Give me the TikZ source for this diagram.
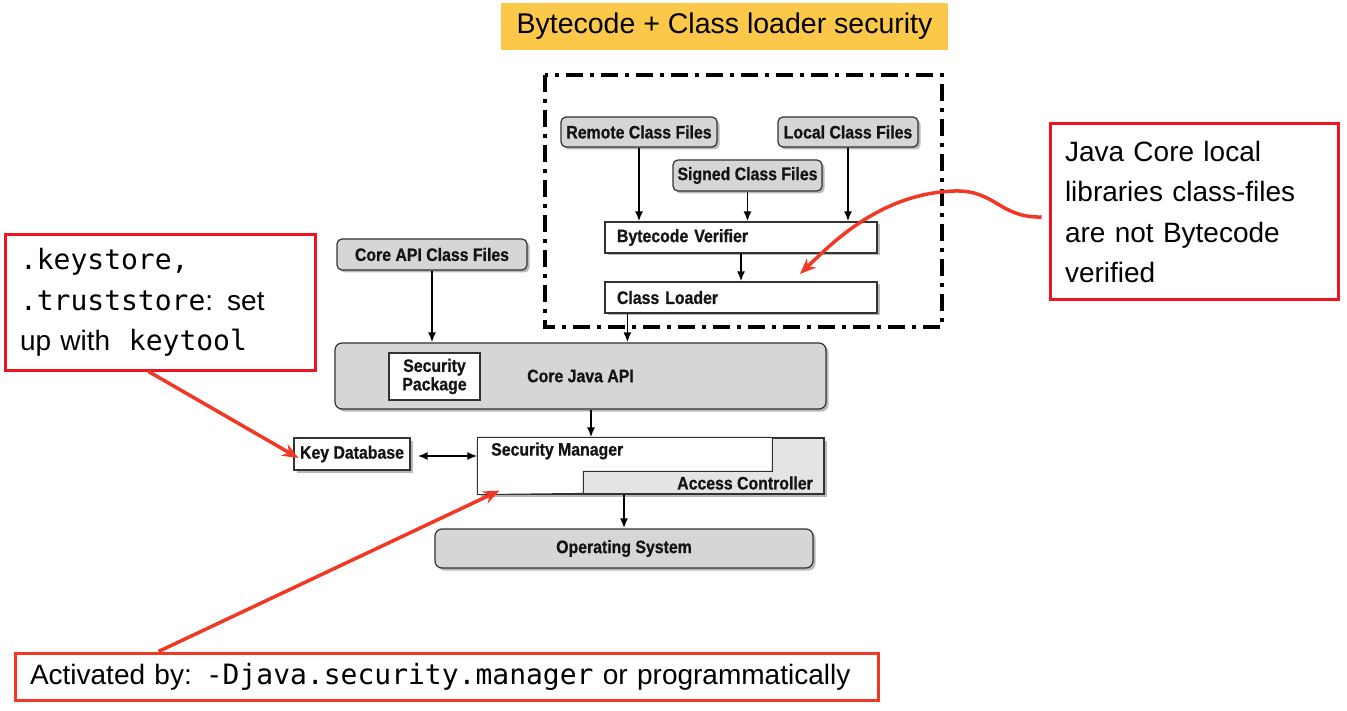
\documentclass[tikz,border=0pt]{standalone}
\usepackage{fontspec}
\setmainfont{Liberation Sans}
\setmonofont{DejaVu Sans Mono}
\newfontfamily\diagfont{Liberation Sans}[FakeStretch=0.88,FakeBold=0.8]
\usetikzlibrary{arrows.meta,shadows,calc}
\definecolor{boxgray}{RGB}{214,214,214}
\definecolor{accgray}{RGB}{228,228,228}
\definecolor{edge}{RGB}{50,50,50}
\definecolor{diagtext}{RGB}{20,20,20}
\definecolor{titleyellow}{RGB}{252,200,74}
\definecolor{calloutred}{RGB}{240,20,35}
\definecolor{arrowred}{RGB}{242,56,36}
\begin{document}
\begin{tikzpicture}[x=1pt,y=-1pt,
  dtext/.style={font=\diagfont\bfseries\fontsize{18}{18.5}\selectfont, text=diagtext},
  shadowed/.style={drop shadow={shadow xshift=2.5pt,shadow yshift=-2.5pt,opacity=0.28,fill=black}},
  filebox/.style={dtext, draw=edge, line width=1.2pt, fill=boxgray, rounded corners=5pt, shadowed, inner sep=0pt},
  plainbox/.style={dtext, draw=edge, line width=1.2pt, fill=white, shadowed, inner sep=0pt},
  arr/.style={line width=1.8pt, -{Latex[length=10pt,width=8pt]}},
  callout/.style={draw=calloutred, line width=3pt, fill=white, inner ysep=0pt, inner xsep=15pt, align=left,
    font=\fontsize{28}{40.5}\selectfont},
  redarrow/.style={draw=arrowred, line width=3.5pt, -{Stealth[length=16pt,width=13pt]}}
]
\fill[white] (0,0) rectangle (1347,711);
\useasboundingbox (0,0) rectangle (1347,711);

% title
\node[fill=titleyellow, minimum width=447pt, minimum height=47pt, inner sep=0pt,
  font=\fontsize{28.5}{34}\selectfont] (title) at (724.5,26.5) {Bytecode + Class loader security};

% dash-dot frame
\draw[line width=3.5pt, dash pattern=on 17pt off 7pt on 4pt off 7pt] (545,75) rectangle (942,327);

% class file sources
\node[filebox, minimum width=156pt, minimum height=30pt] (rem) at (639,132) {Remote Class Files};
\node[filebox, minimum width=140pt, minimum height=30pt] (loc) at (848,132) {Local Class Files};
\node[filebox, minimum width=149pt, minimum height=31pt] (sig) at (747.5,175.5) {Signed Class Files};
\node[plainbox, text width=248pt, inner xsep=12pt, align=left, minimum height=31pt] (bv) at (741,237.5) {Bytecode Verifier};
\node[plainbox, text width=248pt, inner xsep=12pt, align=left, minimum height=31pt] (cl) at (741,297.5) {Class Loader};
\node[filebox, minimum width=190pt, minimum height=31pt] (capi) at (432,254.5) {Core API Class Files};

% core java api
\node[filebox, rounded corners=7pt, minimum width=491pt, minimum height=66pt] (cj) at (580.5,376) {Core Java API};
\node[dtext, draw=edge, line width=2.2pt, fill=white, inner sep=0pt, minimum width=91pt, minimum height=47pt,
  align=center] (sp) at (434.5,376.5) {Security\\Package};

% security manager / access controller
\node[draw=edge, line width=1.2pt, fill=accgray, shadowed, minimum width=346pt, minimum height=56pt, inner sep=0pt] (sm) at (651,466) {};
\filldraw[fill=white, draw=edge, line width=1pt] (sm.north west) -- ++(295,0) -- ++(0,34) -- ++(-189,0) -- ++(0,22) -- (sm.south west) -- cycle;
\node[dtext, anchor=west, inner sep=0pt] (smtext) at (491,451) {Security Manager};
\node[dtext, anchor=east, inner sep=0pt] (actext) at (813,483) {Access Controller};

\node[plainbox, minimum width=116pt, minimum height=32pt] (kdb) at (352,454) {Key Database};
\node[filebox, rounded corners=7pt, minimum width=378pt, minimum height=39pt] (os) at (624,548.5) {Operating System};

% black connectors
\draw[arr] (rem.south) -- (rem.south |- bv.north);
\draw[arr] (sig.south) -- (sig.south |- bv.north);
\draw[arr] (loc.south) -- (loc.south |- bv.north);
\draw[arr] (bv.south) -- (cl.north);
\coordinate (clout) at ($(cl.south west)+(23,0)$);
\draw[arr] (clout) -- (clout |- cj.north);
\draw[arr] (capi.south) -- (capi.south |- cj.north);
\coordinate (cjout) at ($(cj.south)+(10.5,0)$);
\draw[arr] (cjout) -- (cjout |- sm.north);
\draw[arr] (os.north |- sm.south) -- (os.north);
\coordinate (kdbR) at ($(kdb.east)+(7,2)$);
\draw[line width=1.8pt, {Latex[length=10pt,width=8pt]}-{Latex[length=10pt,width=8pt]}] (kdbR) -- (kdbR -| sm.west);

% callouts
\node[callout, text width=280pt, minimum height=135pt] (ks) at (160,302.5)
  {\texttt{.keystore,}\\\texttt{.truststore}: set\\up with \texttt{ keytool}};
\node[callout, text width=258pt, minimum height=176pt] (rb) at (1194,212)
  {Java Core local\\libraries class-files\\are not Bytecode\\verified};
\node[callout, draw=arrowred, text width=833pt, minimum height=47pt] (act) at (446.5,676.5)
  {Activated by: \texttt{-Djava.security.manager} or programmatically};

% red arrows
\coordinate (t1) at (800,274);
\draw[redarrow] ($(rb.west)+(-7,5)$) .. controls (1000,218) and (995,190) .. (955,191)
  .. controls (880,193) and (830,245) .. (t1);
\coordinate (t2) at ($(kdb.west)+(5,4)$);
\draw[redarrow] ($(ks.south west)+(145,0)$) -- (t2);
\coordinate (t3) at ($(sm.south west)+(22,-4)$);
\draw[redarrow] ($(act.north west)+(145,0)$) -- (t3);
\end{tikzpicture}
\end{document}
